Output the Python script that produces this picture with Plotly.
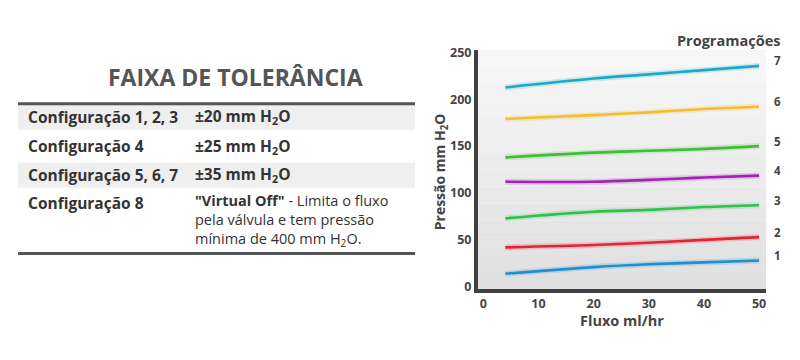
import plotly.graph_objects as go

# ---- data ----
fluxo = [4, 20, 30, 40, 50]
prog1 = [14, 21, 24, 26, 28]
prog2 = [42, 44.5, 47, 50, 53]
prog3 = [73, 80, 82, 85, 87]
prog4 = [112, 112, 114, 116.5, 118.5]
prog5 = [138, 143, 145, 147, 150]
prog6 = [179, 183, 186, 189.5, 192]
prog7 = [212.5, 222, 226.5, 231, 235.5]
prog_labels = ["1", "2", "3", "4", "5", "6", "7"]

x_ticks = [0, 10, 20, 30, 40, 50]
y_ticks = [0, 50, 100, 150, 200, 250]

tabela_config = ["Configuração 1, 2, 3", "Configuração 4", "Configuração 5, 6, 7", "Configuração 8"]
tabela_tol = ["±20 mm H<sub>2</sub>O", "±25 mm H<sub>2</sub>O", "±35 mm H<sub>2</sub>O"]
tabela_tol8 = ["<b>\"Virtual Off\"</b> - Limita o fluxo",
               "pela válvula e tem pressão",
               "mínima de 400 mm H<sub>2</sub>O."]

series = [prog1, prog2, prog3, prog4, prog5, prog6, prog7]
colors = ["#1e8fd0", "#e62233", "#2ec24a", "#a324b4", "#3fbf36", "#f4be2c", "#1aaac9"]

W, H = 800, 360
FONT = "Open Sans"
TXT = "#333333"
FS = 15.5

fig = go.Figure()

for ys, c in zip(series, colors):
    fig.add_trace(go.Scatter(x=fluxo, y=ys, mode="lines", line=dict(color=c, width=6, shape="spline"),
                             opacity=0.18, hoverinfo="skip", showlegend=False))
for ys, c, lab in zip(series, colors, prog_labels):
    fig.add_trace(go.Scatter(x=fluxo, y=ys, mode="lines", name=lab,
                             line=dict(color=c, width=2.6, shape="spline"), showlegend=False))

def px(x):
    return x / W

def py(y):
    return 1 - y / H

shapes = []
# plot background gradient bands
n = 14
top, bot = 45, 293
for i in range(n):
    t = i / (n - 1)
    v = int(round(247 - (247 - 224) * t))
    shapes.append(dict(type="rect", xref="paper", yref="paper", layer="below",
                       x0=px(478), x1=px(766),
                       y0=py(top + (bot - top) * (i + 1) / n), y1=py(top + (bot - top) * i / n),
                       fillcolor=f"rgb({v},{v},{v})", line=dict(width=0)))

# table backgrounds and rules
shapes.append(dict(type="rect", xref="paper", yref="paper", x0=px(18), x1=px(415), y0=py(128), y1=py(102),
                   fillcolor="#efefef", line=dict(width=0), layer="below"))
shapes.append(dict(type="rect", xref="paper", yref="paper", x0=px(18), x1=px(415), y0=py(188), y1=py(162),
                   fillcolor="#efefef", line=dict(width=0), layer="below"))
shapes.append(dict(type="line", xref="paper", yref="paper", x0=px(18), x1=px(415), y0=py(101), y1=py(101),
                   line=dict(color="#555555", width=3)))
shapes.append(dict(type="line", xref="paper", yref="paper", x0=px(18), x1=px(415), y0=py(256), y1=py(256),
                   line=dict(color="#555555", width=3)))

ann = []
ann.append(dict(text="<b>FAIXA DE TOLERÂNCIA</b>", xref="paper", yref="paper", x=px(235), y=py(73),
                xanchor="center", yanchor="middle", showarrow=False,
                font=dict(family=FONT, size=23, color="#555555")))
row_y = [114.5, 145, 174.5, 203.5]
for cfg, ry in zip(tabela_config, row_y):
    ann.append(dict(text=f"<b>{cfg}</b>", xref="paper", yref="paper", x=px(26), y=py(ry),
                    xanchor="left", yanchor="middle", showarrow=False,
                    font=dict(family=FONT, size=FS, color=TXT)))
for tol, ry in zip(tabela_tol, row_y):
    ann.append(dict(text=f"<b>{tol}</b>", xref="paper", yref="paper", x=px(193), y=py(ry),
                    xanchor="left", yanchor="middle", showarrow=False,
                    font=dict(family=FONT, size=FS, color=TXT)))
ann.append(dict(text="<br>".join(tabela_tol8), xref="paper", yref="paper", x=px(193), y=py(189),
                xanchor="left", yanchor="top", align="left", showarrow=False,
                font=dict(family=FONT, size=14.5, color=TXT)))

# chart labels
ann.append(dict(text="<b>Programações</b>", xref="paper", yref="paper", x=px(782), y=py(36),
                xanchor="right", yanchor="middle", showarrow=False,
                font=dict(family=FONT, size=14.5, color="#444444")))
for ys, lab in zip(series, prog_labels):
    ann.append(dict(text=f"<b>{lab}</b>", xref="paper", yref="y", x=px(777), y=ys[-1], yshift=5,
                    xanchor="center", yanchor="middle", showarrow=False,
                    font=dict(family=FONT, size=11.5, color="#444444")))
ann.append(dict(text="<b>Pressão mm H<sub>2</sub>O</b>", xref="paper", yref="paper", x=px(440), y=py(172),
                xanchor="center", yanchor="middle", textangle=-90, showarrow=False,
                font=dict(family=FONT, size=14, color="#444444")))
ann.append(dict(text="<b>Fluxo ml/hr</b>", xref="paper", yref="paper", x=px(622), y=py(325),
                xanchor="center", yanchor="middle", showarrow=False,
                font=dict(family=FONT, size=14.5, color="#444444")))

fig.update_layout(
    width=W, height=H,
    margin=dict(l=0, r=0, t=0, b=0),
    paper_bgcolor="white", plot_bgcolor="rgba(0,0,0,0)",
    shapes=shapes, annotations=ann,
    xaxis=dict(domain=[px(478), px(766)], range=[-0.96, 51.25], tickvals=x_ticks, ticktext=[str(t) for t in x_ticks],
               showgrid=False, zeroline=False, showline=True, linecolor="#404040", linewidth=4,
               ticks="", ticklabelstandoff=0,
               tickfont=dict(family=FONT, size=12.5, color="#444444", weight="bold")),
    yaxis=dict(domain=[py(293), py(45)], range=[-2.6, 253], tickvals=y_ticks, ticktext=[str(t) for t in y_ticks],
               showgrid=False, zeroline=False, showline=True, linecolor="#404040", linewidth=4,
               ticks="", ticklabelstandoff=0,
               tickfont=dict(family=FONT, size=12.5, color="#444444", weight="bold")),
    font=dict(family=FONT),
)

fig.write_html("out.html", config={"displayModeBar": False},
               post_script="document.body.style.margin='0';document.body.style.overflow='hidden';")
